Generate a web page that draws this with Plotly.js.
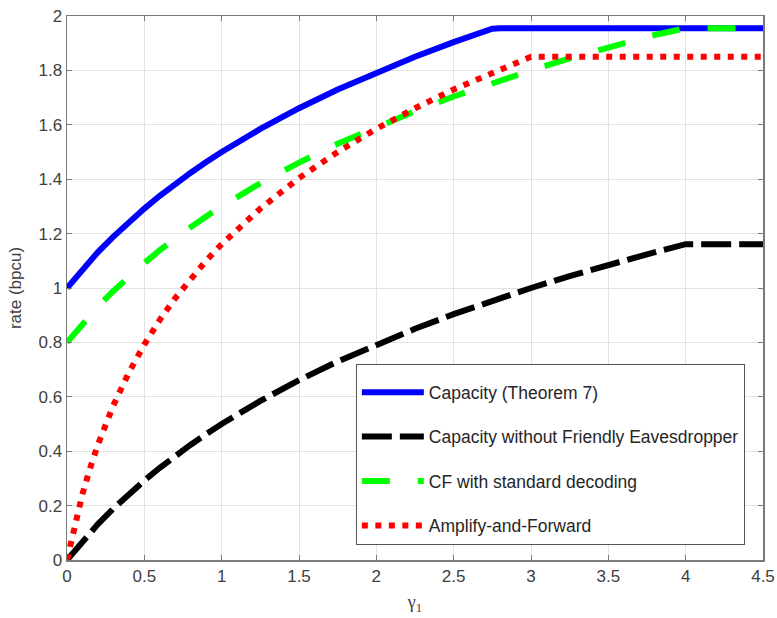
<!DOCTYPE html>
<html>
<head>
<meta charset="utf-8">
<script src="https://cdn.plot.ly/plotly-3.0.1.min.js"></script>
<style>html,body{margin:0;padding:0;background:#fff;}#chart{width:777px;height:618px;}</style>
</head>
<body>
<div id="chart"></div>
<script>
// gamma_1 sample points
var gamma1 = [0, 0.05, 0.1, 0.15, 0.2, 0.3, 0.4, 0.5, 0.6, 0.7, 0.8, 0.9, 1, 1.25, 1.5, 1.75, 2, 2.25, 2.5, 2.75, 2.8, 3, 3.25, 3.5, 3.75, 4, 4.25, 4.5];
// Capacity (Theorem 7)
var capacity = [1, 1.035, 1.069, 1.101, 1.132, 1.189, 1.243, 1.292, 1.339, 1.383, 1.424, 1.463, 1.5, 1.585, 1.661, 1.730, 1.792, 1.850, 1.904, 1.953, 1.955, 1.955, 1.955, 1.955, 1.955, 1.955, 1.955, 1.955];
// Capacity without Friendly Eavesdropper
var capNoFE = [0, 0.035, 0.069, 0.101, 0.132, 0.189, 0.243, 0.292, 0.339, 0.383, 0.424, 0.463, 0.5, 0.585, 0.661, 0.730, 0.792, 0.850, 0.904, 0.953, 0.963, 1.0, 1.044, 1.085, 1.124, 1.161, 1.161, 1.161];
// CF with standard decoding
var cfStd = [0.8, 0.835, 0.869, 0.901, 0.932, 0.989, 1.043, 1.092, 1.139, 1.183, 1.224, 1.263, 1.3, 1.385, 1.461, 1.530, 1.592, 1.650, 1.704, 1.753, 1.763, 1.8, 1.844, 1.885, 1.924, 1.955, 1.955, 1.955];
// Amplify-and-Forward
var af = [0, 0.132, 0.243, 0.339, 0.424, 0.569, 0.689, 0.792, 0.883, 0.963, 1.035, 1.101, 1.161, 1.292, 1.404, 1.5, 1.585, 1.661, 1.730, 1.792, 1.804, 1.850, 1.85, 1.85, 1.85, 1.85, 1.85, 1.85];

var xTicks = [0, 0.5, 1, 1.5, 2, 2.5, 3, 3.5, 4, 4.5];
var xTickText = ['0', '0.5', '1', '1.5', '2', '2.5', '3', '3.5', '4', '4.5'];
var yTicks = [0, 0.2, 0.4, 0.6, 0.8, 1, 1.2, 1.4, 1.6, 1.8, 2];
var yTickText = ['0', '0.2', '0.4', '0.6', '0.8', '1', '1.2', '1.4', '1.6', '1.8', '2'];

var names = ['Capacity (Theorem 7)', 'Capacity without Friendly Eavesdropper', 'CF with standard decoding', 'Amplify-and-Forward'];

var traces = [
  {x: gamma1, y: capacity, name: names[0], legendgroup: 'a', mode: 'lines', line: {color: '#0000ff', width: 6}},
  {x: gamma1, y: capNoFE, name: names[1], legendgroup: 'b', mode: 'lines', line: {color: '#000000', width: 6, dash: '30px,8px'}},
  {x: gamma1, y: cfStd, name: names[2], legendgroup: 'c', mode: 'lines', line: {color: '#00ff00', width: 6, dash: '28px,28px'}},
  {x: gamma1, y: af, name: names[3], legendgroup: 'd', mode: 'lines', line: {color: '#ff0000', width: 6, dash: '6px,7.5px'}}
];

var axisCommon = {
  showline: true, linecolor: '#7a7a7a', linewidth: 1.5, mirror: 'ticks',
  ticks: 'inside', ticklen: 5, tickcolor: '#7a7a7a', tickwidth: 1,
  showgrid: true, gridcolor: '#e2e2e2', gridwidth: 1, zeroline: false,
  tickfont: {family: 'Liberation Sans, Arial, sans-serif', size: 17, color: '#404040'},
  tickmode: 'array'
};

var layout = {
  width: 777, height: 618,
  margin: {l: 67, r: 14, t: 16, b: 58},
  paper_bgcolor: '#ffffff', plot_bgcolor: '#ffffff',
  showlegend: true,
  xaxis: Object.assign({}, axisCommon, {
    range: [0, 4.5], tickvals: xTicks, ticktext: xTickText,
    title: {text: 'γ<sub>1</sub>', font: {family: 'Liberation Serif, Times New Roman, serif', size: 18, color: '#404040'}, standoff: 10}
  }),
  yaxis: Object.assign({}, axisCommon, {
    range: [0, 2], tickvals: yTicks, ticktext: yTickText,
    title: {text: 'rate (bpcu)', font: {family: 'Liberation Sans, Arial, sans-serif', size: 17, color: '#404040'}, standoff: 12}
  }),
  legend: {
    x: 0.415, y: 0.360, xanchor: 'left', yanchor: 'top',
    bgcolor: '#ffffff', bordercolor: '#555555', borderwidth: 1,
    font: {family: 'Liberation Sans, Arial, sans-serif', size: 17.5, color: '#262626'},
    title: {text: ' ', font: {size: 7}},
    itemwidth: 62, tracegroupgap: 18.7, traceorder: 'grouped'
  }
};

Plotly.newPlot('chart', traces, layout, {displayModeBar: false, staticPlot: true});
</script>
</body>
</html>
